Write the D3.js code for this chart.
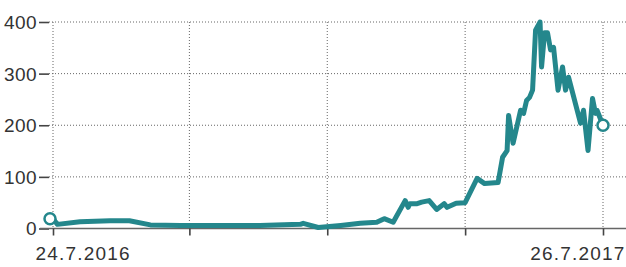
<!DOCTYPE html>
<html>
<head>
<meta charset="utf-8">
<script src="https://cdn.jsdelivr.net/npm/d3@7"></script>
<style>
  body { margin: 0; background: #fff; }
  svg { display: block; }
  text { font-family: "Liberation Sans", Arial, sans-serif; fill: #333; }
</style>
</head>
<body>
<div id="chart"></div>
<script>
// Price series
const dates = [
  "2016-07-24", "2016-07-27", "2016-08-11", "2016-08-31", "2016-09-13", "2016-09-27",
  "2016-10-17", "2016-11-12", "2016-12-09", "2017-01-05", "2017-01-07", "2017-01-17",
  "2017-02-01", "2017-02-14", "2017-02-25", "2017-03-02", "2017-03-08", "2017-03-16",
  "2017-03-18", "2017-03-19", "2017-03-24", "2017-03-27", "2017-04-01", "2017-04-06",
  "2017-04-11", "2017-04-13", "2017-04-19", "2017-04-25", "2017-05-03", "2017-05-08",
  "2017-05-17", "2017-05-20", "2017-05-23", "2017-05-24", "2017-05-27", "2017-06-01",
  "2017-06-03", "2017-06-05", "2017-06-07", "2017-06-09", "2017-06-11", "2017-06-14",
  "2017-06-15", "2017-06-17", "2017-06-19", "2017-06-21", "2017-06-23", "2017-06-26",
  "2017-06-29", "2017-07-01", "2017-07-03", "2017-07-11", "2017-07-13", "2017-07-16",
  "2017-07-19", "2017-07-21", "2017-07-22", "2017-07-26"
];
const values = [
  19, 8, 13, 15, 15, 7,
  6, 6, 6, 8, 10, 2,
  6, 10, 12, 19, 12, 54,
  41, 48, 48, 51, 54, 37,
  48, 41, 49, 50, 97, 87,
  89, 138, 151, 219, 165, 229,
  223, 248, 254, 268, 384, 400,
  313, 379, 379, 346, 351, 268,
  313, 268, 293, 204, 229, 151,
  252, 223, 229, 200
];

const yTicks = [0, 100, 200, 300, 400];
const xTicks = ["2016-07-24", "2016-10-23", "2017-01-23", "2017-04-25", "2017-07-26"];
const xLabels = ["24.7.2016", "", "", "", "26.7.2017"];

const width = 626, height = 267;
const lineColor = "#24878c";
const parse = d3.timeParse("%Y-%m-%d");
const data = dates.map((d, i) => ({ date: parse(d), value: values[i] }));

const x = d3.scaleTime()
  .domain([parse(dates[0]), parse(dates[dates.length - 1])])
  .range([53, 603]);
const y = d3.scaleLinear().domain([0, 400]).range([228.5, 22]);

const svg = d3.select("#chart").append("svg")
  .attr("width", width).attr("height", height);

// horizontal dotted grid
svg.append("g").selectAll("line")
  .data(yTicks.filter(v => v > 0))
  .join("line")
  .attr("x1", 49).attr("x2", width)
  .attr("y1", d => y(d)).attr("y2", d => y(d))
  .attr("stroke", "#666").attr("stroke-width", 1)
  .attr("stroke-dasharray", "1,2");

// vertical dotted grid
svg.append("g").selectAll("line")
  .data(xTicks)
  .join("line")
  .attr("x1", d => x(parse(d))).attr("x2", d => x(parse(d)))
  .attr("y1", y(400)).attr("y2", y(0))
  .attr("stroke", "#666").attr("stroke-width", 1)
  .attr("stroke-dasharray", "1,2");

// y axis: dash ticks + labels
const yAxis = svg.append("g")
  .attr("transform", "translate(49,0)")
  .call(d3.axisLeft(y).tickValues(yTicks).tickSize(10).tickPadding(2));
yAxis.select(".domain").remove();
yAxis.selectAll(".tick line").attr("stroke", "#444").attr("stroke-width", 1.6);
yAxis.selectAll(".tick text")
  .attr("font-size", 19).attr("dy", "0.34em")
  .style("font-family", "'Liberation Sans', Arial, sans-serif")
  .style("letter-spacing", "0.4px").attr("fill", "#333");

// baseline
svg.append("line")
  .attr("x1", 40).attr("x2", width)
  .attr("y1", y(0)).attr("y2", y(0))
  .attr("stroke", "#666").attr("stroke-width", 1.6);

// x axis ticks + labels
const xAxis = svg.append("g")
  .attr("transform", `translate(0,${y(0)})`)
  .call(d3.axisBottom(x).tickValues(xTicks.map(parse)).tickSize(7)
    .tickFormat((d, i) => xLabels[i]));
xAxis.select(".domain").remove();
xAxis.selectAll(".tick line").attr("stroke", "#444").attr("stroke-width", 1.6);
xAxis.selectAll(".tick text")
  .attr("font-size", 19).attr("y", 18)
  .style("font-family", "'Liberation Sans', Arial, sans-serif")
  .style("letter-spacing", "1.2px").attr("fill", "#333")
  .attr("text-anchor", (d, i) => i === 0 ? "start" : "end")
  .attr("dx", (d, i) => i === 0 ? -18 : 22);

// price line
const line = d3.line().x(d => x(d.date)).y(d => y(d.value));
svg.append("path")
  .datum(data)
  .attr("d", line)
  .attr("fill", "none")
  .attr("stroke", lineColor)
  .attr("stroke-width", 5)
  .attr("stroke-linejoin", "round")
  .attr("stroke-linecap", "round");

// end markers
svg.append("g").selectAll("circle")
  .data([data[0], data[data.length - 1]])
  .join("circle")
  .attr("cx", (d, i) => x(d.date) - (i === 0 ? 3 : 0))
  .attr("cy", d => y(d.value))
  .attr("r", 5.5)
  .attr("fill", "#fff")
  .attr("stroke", lineColor)
  .attr("stroke-width", 2.5);
</script>
</body>
</html>
